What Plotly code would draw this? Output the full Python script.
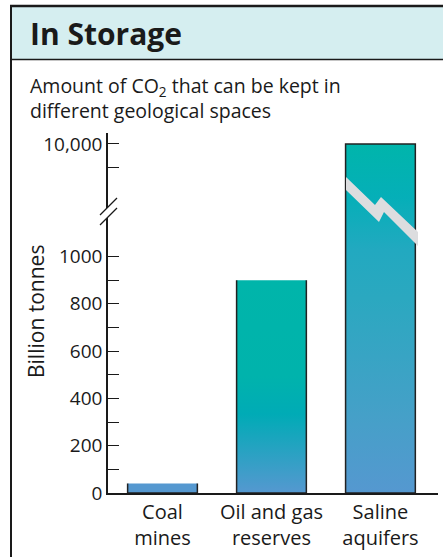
import plotly.graph_objects as go

# data (billion tonnes of CO2)
categories = ["Coal<br>mines", "Oil and gas<br>reserves", "Saline<br>aquifers"]
values = [40, 900, 10000]

low_ticks = [0, 200, 400, 600, 800, 1000]
low_labels = ["0", "200", "400", "600", "800", "1000"]
low_minor = [100, 300, 500, 700, 900]
high_ticks = [10000]
high_labels = ["10,000"]
high_minor = [9000]

# page geometry (pixels)
W, H = 443, 557
L, R, T, B = 108, 5, 133, 64
PW, PH = W - L - R, H - T - B
BREAK = 0.675                 # paper y where the lower panel ends
LOW_RANGE = [0, 1027.5]
HIGH_RANGE = [5583, 10458]
BAR_W = 0.64

FONT = "Open Sans"
INK = "#1a1a1a"
BLUE = "#5598d0"
EDGE = "#222222"

# gradient per bar: (lower piece colorscale, upper piece colorscale)
grads = [
    None,
    ([[0, BLUE], [0.37, "#00abb6"], [0.55, "#00b3ac"], [1, "#00b5aa"]], None),
    ([[0, BLUE], [0.32, "#45a0c8"], [0.8, "#2ba8c0"], [1, "#22a9c0"]],
     [[0, "#22a9c0"], [0.5, "#05afb8"], [1, "#00b5ab"]]),
]


def px_x(x):
    return (x - L) / PW


def px_y(y):
    return (H - B - y) / PH


def path(pts, close=True):
    s = "M " + " L ".join(f"{px_x(x):.5f},{px_y(y):.5f}" for x, y in pts)
    return s + (" Z" if close else "")


fig = go.Figure()

for i, v in enumerate(values):
    x0, x1 = i - BAR_W / 2, i + BAR_W / 2
    top = min(v, LOW_RANGE[1])
    kw = dict(mode="lines", fill="toself", line=dict(color=EDGE, width=1.5),
              hoverinfo="skip", showlegend=False)
    if grads[i] is None:
        kw["fillcolor"] = BLUE
    else:
        kw["fillgradient"] = dict(type="vertical", colorscale=grads[i][0],
                                  start=0, stop=top)
    fig.add_trace(go.Scatter(x=[x0, x0, x1, x1], y=[top, 0, 0, top],
                             yaxis="y", **kw))
    if v > LOW_RANGE[1]:
        lo = HIGH_RANGE[0]
        fig.add_trace(go.Scatter(
            x=[x0, x0, x1, x1], y=[lo, v, v, lo], yaxis="y2", mode="lines",
            fill="toself", line=dict(color=EDGE, width=1.5),
            fillgradient=dict(type="vertical", colorscale=grads[i][1],
                              start=lo, stop=v),
            hoverinfo="skip", showlegend=False))

shapes = [
    # header band and frame (kept inside the page)
    dict(type="rect", xref="paper", yref="paper", x0=px_x(11), x1=px_x(W),
         y0=px_y(60), y1=px_y(6), fillcolor="#d5eef0", line_width=0, layer="below"),
    dict(type="line", xref="paper", yref="paper", x0=px_x(10), x1=px_x(W),
         y0=px_y(6), y1=px_y(6), line=dict(color=INK, width=2.5)),
    dict(type="line", xref="paper", yref="paper", x0=px_x(11), x1=px_x(W),
         y0=px_y(59.5), y1=px_y(59.5), line=dict(color=INK, width=1.5)),
    dict(type="line", xref="paper", yref="paper", x0=px_x(11), x1=px_x(11),
         y0=px_y(6), y1=px_y(H), line=dict(color=INK, width=2)),
    # axis break marks
    dict(type="path", xref="paper", yref="paper",
         path=path([(103, 212), (113, 202), (113, 212), (103, 222)]),
         fillcolor="white", line_width=0),
    dict(type="line", xref="paper", yref="paper", x0=px_x(100), x1=px_x(117),
         y0=px_y(215), y1=px_y(198), line=dict(color=INK, width=1.3)),
    dict(type="line", xref="paper", yref="paper", x0=px_x(100), x1=px_x(117),
         y0=px_y(225), y1=px_y(208), line=dict(color=INK, width=1.3)),
    # lightning break across the tall bar
    dict(type="path", xref="paper", yref="paper",
         path=path([(346, 177), (375, 205), (381, 197), (418, 232),
                    (418, 246), (384, 212), (379, 222), (346, 190)]),
         fillcolor="#dcdddf", line_width=0),
]


def note(text, x, y, size, **extra):
    d = dict(text=text, xref="paper", yref="paper", x=px_x(x), y=px_y(y),
             xanchor="left", yanchor="middle", showarrow=False,
             font=dict(size=size, color=INK))
    d.update(extra)
    return d


annotations = [
    note("<b>In Storage</b>", 28, 33, 30),
    note("Amount of CO<sub>2</sub> that can be kept in<br>different geological spaces",
         28, 98, 19.5, align="left"),
    note("Billion tonnes", 36, 312, 21, textangle=-90, xanchor="center"),
]

axis_common = dict(showline=True, linecolor=INK, linewidth=1.5, showgrid=False,
                   zeroline=False, ticks="inside", ticklen=11, tickwidth=1.3,
                   tickcolor=INK, tickfont=dict(size=19, color=INK),
                   fixedrange=True)
minor_common = dict(ticks="inside", ticklen=11, tickwidth=1.3, tickcolor=INK,
                    showgrid=False)

fig.update_layout(
    width=W, height=H,
    margin=dict(l=L, r=R, t=T, b=B),
    paper_bgcolor="white", plot_bgcolor="white",
    font=dict(family=FONT, color=INK),
    shapes=shapes, annotations=annotations,
    xaxis=dict(range=[-0.5, 2.528], tickmode="array", tickvals=[0, 1, 2],
               ticktext=categories, showline=True, linecolor=INK, linewidth=1.5,
               showgrid=False, zeroline=False, ticks="",
               tickfont=dict(size=20, color=INK), fixedrange=True),
    yaxis=dict(domain=[0, BREAK], range=LOW_RANGE, tickmode="array",
               tickvals=low_ticks, ticktext=low_labels,
               minor=dict(tickvals=low_minor, **minor_common), **axis_common),
    yaxis2=dict(domain=[BREAK, 1], range=HIGH_RANGE, anchor="x", tickmode="array",
                tickvals=high_ticks, ticktext=high_labels,
                minor=dict(tickvals=high_minor, **minor_common), **axis_common),
)

fig.write_html("out.html", config={"displayModeBar": False},
               post_script="document.body.style.margin = '0';")
